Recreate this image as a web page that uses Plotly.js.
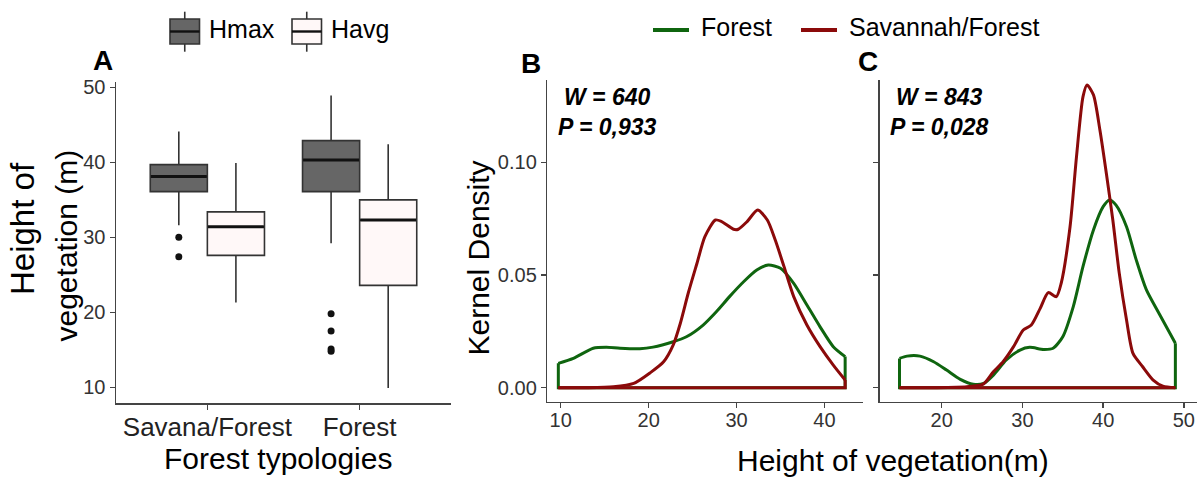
<!DOCTYPE html>
<html><head><meta charset="utf-8">
<script src="https://cdn.plot.ly/plotly-3.0.1.min.js"></script>
<style>html,body{margin:0;padding:0;background:#fff}#chart{width:1203px;height:479px}</style>
</head><body><div id="chart"></div>
<script>
// ---------- Data: panel A (box plots) ----------
const categories = ['Savana/Forest', 'Forest'];
const boxSeries = ['Hmax', 'Havg'];
const hmaxLower  = [31.6, 29.2];
const hmaxQ1     = [36.1, 36.1];
const hmaxMedian = [38.1, 40.3];
const hmaxQ3     = [39.7, 42.9];
const hmaxUpper  = [44.1, 48.9];
const havgLower  = [21.3, 9.9];
const havgQ1     = [27.6, 23.6];
const havgMedian = [31.4, 32.3];
const havgQ3     = [33.4, 35.0];
const havgUpper  = [39.9, 42.4];
const hmaxOutlierCat = ['Savana/Forest', 'Savana/Forest', 'Forest', 'Forest', 'Forest', 'Forest'];
const hmaxOutliers   = [30.0, 27.4, 19.8, 17.5, 15.1, 14.8];
const yTicksA = [10, 20, 30, 40, 50];

// ---------- Data: panels B and C (kernel densities) ----------
const densitySeries = ['Forest', 'Savannah/Forest'];
const bForestX = [9.73, 11.44, 13.7, 15.2, 16.75, 19.0, 20.5, 22.8, 24.3, 26.2, 27.7, 29.2, 30.8, 32.3, 33.6, 35.0, 36.5, 38.0, 39.5, 41.0, 42.35];
const bForestY = [0.0108, 0.013, 0.0175, 0.0179, 0.0175, 0.0173, 0.018, 0.0204, 0.0226, 0.0278, 0.0337, 0.0404, 0.047, 0.0522, 0.0544, 0.053, 0.0463, 0.0367, 0.027, 0.0182, 0.0138];
const bSavX = [9.73, 13.0, 16.0, 18.3, 20.2, 21.7, 22.8, 23.6, 24.5, 25.5, 26.4, 27.6, 28.3, 29.65, 30.2, 31.2, 32.4, 33.5, 34.4, 35.4, 36.5, 38.0, 39.5, 41.0, 42.35];
const bSavY = [0, 0, 0.0004, 0.0019, 0.0067, 0.0115, 0.019, 0.0285, 0.0419, 0.0552, 0.067, 0.0744, 0.0737, 0.0703, 0.0703, 0.0737, 0.0788, 0.0744, 0.0655, 0.0537, 0.0404, 0.0278, 0.0182, 0.010, 0.0034];
const cForestX = [14.77, 15.7, 17.3, 19.0, 20.6, 22.3, 23.9, 25.2, 26.4, 28.0, 29.7, 30.9, 32.6, 33.8, 35.0, 36.3, 37.5, 38.8, 40.0, 40.8, 41.6, 42.9, 44.1, 45.35, 47.0, 48.95];
const cForestY = [0.013, 0.014, 0.014, 0.0115, 0.0078, 0.0037, 0.0015, 0.0019, 0.0056, 0.0123, 0.0167, 0.0179, 0.017, 0.0175, 0.0226, 0.036, 0.0537, 0.07, 0.0803, 0.0833, 0.081, 0.0714, 0.0567, 0.0435, 0.0325, 0.0197];
const cSavX = [14.77, 19.0, 23.1, 25.15, 26.4, 27.6, 28.9, 30.1, 31.1, 32.2, 33.2, 34.2, 34.8, 35.9, 36.7, 37.5, 38.0, 38.8, 39.6, 40.4, 41.2, 42.0, 42.9, 43.7, 44.9, 46.2, 47.4, 48.95];
const cSavY = [0, 0, 0.0004, 0.0016, 0.0071, 0.0115, 0.0182, 0.0256, 0.0278, 0.0352, 0.0422, 0.0404, 0.0463, 0.0714, 0.1025, 0.129, 0.1343, 0.1299, 0.1143, 0.095, 0.0744, 0.0507, 0.030, 0.0152, 0.0093, 0.0034, 0.0007, 0];
const xTicksB = [10, 20, 30, 40];
const xTicksC = [20, 30, 40, 50];
const yTicksBC = [0, 0.05, 0.10];
const testB = ['W = 640', 'P = 0,933'];
const testC = ['W = 843', 'P = 0,028'];

// ---------- Styling / layout helpers ----------
const W = 1203, H = 479;
const px = v => v / W;
const py = v => 1 - v / H;
const FONT = 'Liberation Sans, Arial, Helvetica, sans-serif';
const AX = '#444444';
const TICKC = '#333333';
const HMAX_FILL = '#666666', HAVG_FILL = '#FFF8F8', BOX_LINE = '#333333';
const GREEN = '#0F650F', RED = '#8B0A0A';
const dodge = 0.1875, boxW = 0.375;

const catPos = c => categories.indexOf(c) + 1;
const traces = [];

function boxTrace(name, offset, lo, q1, med, q3, up, fill) {
  return {
    type: 'box', name: name, xaxis: 'x', yaxis: 'y',
    x: categories.map(c => catPos(c) + offset),
    lowerfence: lo, q1: q1, median: med, q3: q3, upperfence: up,
    width: boxW, whiskerwidth: 0, boxpoints: false,
    fillcolor: fill, line: {color: BOX_LINE, width: 1.6},
    hoverinfo: 'skip'
  };
}
traces.push(boxTrace(boxSeries[0], -dodge, hmaxLower, hmaxQ1, hmaxMedian, hmaxQ3, hmaxUpper, HMAX_FILL));
traces.push(boxTrace(boxSeries[1], dodge, havgLower, havgQ1, havgMedian, havgQ3, havgUpper, HAVG_FILL));
// thicker median lines (ggplot fatten)
[[hmaxMedian, -dodge], [havgMedian, dodge]].forEach(([med, off]) => {
  categories.forEach((c, i) => {
    traces.push({type: 'scatter', mode: 'lines', xaxis: 'x', yaxis: 'y',
      x: [catPos(c) + off - boxW / 2 + 0.004, catPos(c) + off + boxW / 2 - 0.004],
      y: [med[i], med[i]], line: {color: '#111111', width: 3}, hoverinfo: 'skip'});
  });
});
traces.push({type: 'scatter', mode: 'markers', xaxis: 'x', yaxis: 'y',
  x: hmaxOutlierCat.map(c => catPos(c) - dodge), y: hmaxOutliers,
  marker: {color: '#111111', size: 7}, hoverinfo: 'skip'});

function densityTraces(xs, ys, color, xa, ya) {
  const n = xs.length;
  return [
    {type: 'scatter', mode: 'lines', xaxis: xa, yaxis: ya, x: xs, y: ys,
     line: {color: color, width: 3, shape: 'spline', smoothing: 0.7}, hoverinfo: 'skip'},
    {type: 'scatter', mode: 'lines', xaxis: xa, yaxis: ya,
     x: [xs[0], xs[0], xs[n - 1], xs[n - 1]], y: [ys[0], 0, 0, ys[n - 1]],
     line: {color: color, width: 3}, hoverinfo: 'skip'}
  ];
}
traces.push(...densityTraces(bForestX, bForestY, GREEN, 'x2', 'y2'));
traces.push(...densityTraces(bSavX, bSavY, RED, 'x2', 'y2'));
traces.push(...densityTraces(cForestX, cForestY, GREEN, 'x3', 'y3'));
traces.push(...densityTraces(cSavX, cSavY, RED, 'x3', 'y3'));

const baseAxis = {
  showline: true, linecolor: AX, linewidth: 1.5, ticks: 'outside', ticklen: 5,
  tickcolor: AX, tickwidth: 1.5, showgrid: false, zeroline: false,
  tickfont: {family: FONT, size: 20, color: TICKC}, fixedrange: true
};

const shapes = [];
const annotations = [];
const paperText = (text, x, y, size, opts) => Object.assign({
  text: text, x: px(x), y: py(y), xref: 'paper', yref: 'paper', showarrow: false,
  xanchor: 'center', yanchor: 'middle', font: {family: FONT, size: size, color: '#000'}
}, opts || {});

// Panel A legend (box keys)
[[170, HMAX_FILL, boxSeries[0]], [292, HAVG_FILL, boxSeries[1]]].forEach(([x0, fill, label]) => {
  const xc = x0 + 14.75;
  shapes.push({type: 'line', xref: 'paper', yref: 'paper', x0: px(xc), x1: px(xc), y0: py(11.7), y1: py(19), line: {color: BOX_LINE, width: 1.6}});
  shapes.push({type: 'line', xref: 'paper', yref: 'paper', x0: px(xc), x1: px(xc), y0: py(44), y1: py(51.7), line: {color: BOX_LINE, width: 1.6}});
  shapes.push({type: 'rect', xref: 'paper', yref: 'paper', x0: px(x0), x1: px(x0 + 29.5), y0: py(44), y1: py(19), fillcolor: fill, line: {color: BOX_LINE, width: 1.6}});
  shapes.push({type: 'line', xref: 'paper', yref: 'paper', x0: px(x0), x1: px(x0 + 29.5), y0: py(31.5), y1: py(31.5), line: {color: '#111', width: 2.4}});
  annotations.push(paperText(label, x0 + 37, 29.5, 25, {xanchor: 'left'}));
});
// Panels B/C legend (line keys)
[[653, GREEN, densitySeries[0]], [801, RED, densitySeries[1]]].forEach(([x0, col, label]) => {
  shapes.push({type: 'line', xref: 'paper', yref: 'paper', x0: px(x0), x1: px(x0 + 36), y0: py(30), y1: py(30), line: {color: col, width: 4}});
  annotations.push(paperText(label, x0 + 46, 27.5, 25, {xanchor: 'left'}));
});

// Panel letters
annotations.push(paperText('<b>A</b>', 102.5, 60.5, 28));
annotations.push(paperText('<b>B</b>', 531, 63, 28));
annotations.push(paperText('<b>C</b>', 867.5, 61.5, 28));

// Test statistics
annotations.push({text: testB.map(t => '<b><i>' + t + '</i></b>').join('<br>'), x: 15.3, y: 0.1221, xref: 'x2', yref: 'y2',
  showarrow: false, align: 'center', xanchor: 'center', yanchor: 'middle', font: {family: FONT, size: 23, color: '#000'}});
annotations.push({text: testC.map(t => '<b><i>' + t + '</i></b>').join('<br>'), x: 19.6, y: 0.1221, xref: 'x3', yref: 'y3',
  showarrow: false, align: 'center', xanchor: 'center', yanchor: 'middle', font: {family: FONT, size: 23, color: '#000'}});

// Axis titles
annotations.push(paperText('Forest typologies', 278, 458, 30));
annotations.push(paperText('Height of vegetation(m)', 893, 460, 30));
annotations.push(paperText('Kernel Density', 478, 257.5, 30, {textangle: -90}));
annotations.push(paperText('Height of', 22.5, 228.5, 33, {textangle: -90}));
annotations.push(paperText('vegetation (m)', 65.5, 246, 30, {textangle: -90}));

const layout = {
  width: W, height: H, margin: {l: 0, r: 0, t: 0, b: 0},
  paper_bgcolor: '#fff', plot_bgcolor: 'rgba(0,0,0,0)', showlegend: false,
  boxmode: 'overlay',
  xaxis: Object.assign({}, baseAxis, {domain: [px(116), px(451)], range: [0.4, 2.6], anchor: 'y',
    tickvals: categories.map(catPos), ticktext: categories, tickfont: {family: FONT, size: 26, color: '#222'}, ticklabelstandoff: -5}),
  yaxis: Object.assign({}, baseAxis, {domain: [py(403.3), py(81.7)], range: [7.87, 50.75], anchor: 'x',
    tickvals: yTicksA, ticklabelstandoff: 0}),
  xaxis2: Object.assign({}, baseAxis, {domain: [px(547.3), px(863)], range: [8.476, 44.38], anchor: 'y2',
    tickvals: xTicksB, ticklabelstandoff: -5}),
  yaxis2: Object.assign({}, baseAxis, {domain: [py(401.7), py(80)], range: [-0.00621, 0.1365], anchor: 'x2',
    tickvals: yTicksBC, tickformat: '.2f', ticklabelstandoff: 0}),
  xaxis3: Object.assign({}, baseAxis, {domain: [px(879.5), px(1197)], range: [12.29, 51.63], anchor: 'y3',
    tickvals: xTicksC, ticklabelstandoff: -5}),
  yaxis3: Object.assign({}, baseAxis, {domain: [py(401.7), py(80)], range: [-0.00621, 0.1365], anchor: 'x3',
    tickvals: yTicksBC, showticklabels: false}),
  shapes: shapes, annotations: annotations
};

Plotly.newPlot('chart', traces, layout, {displayModeBar: false, staticPlot: true});
</script></body></html>
